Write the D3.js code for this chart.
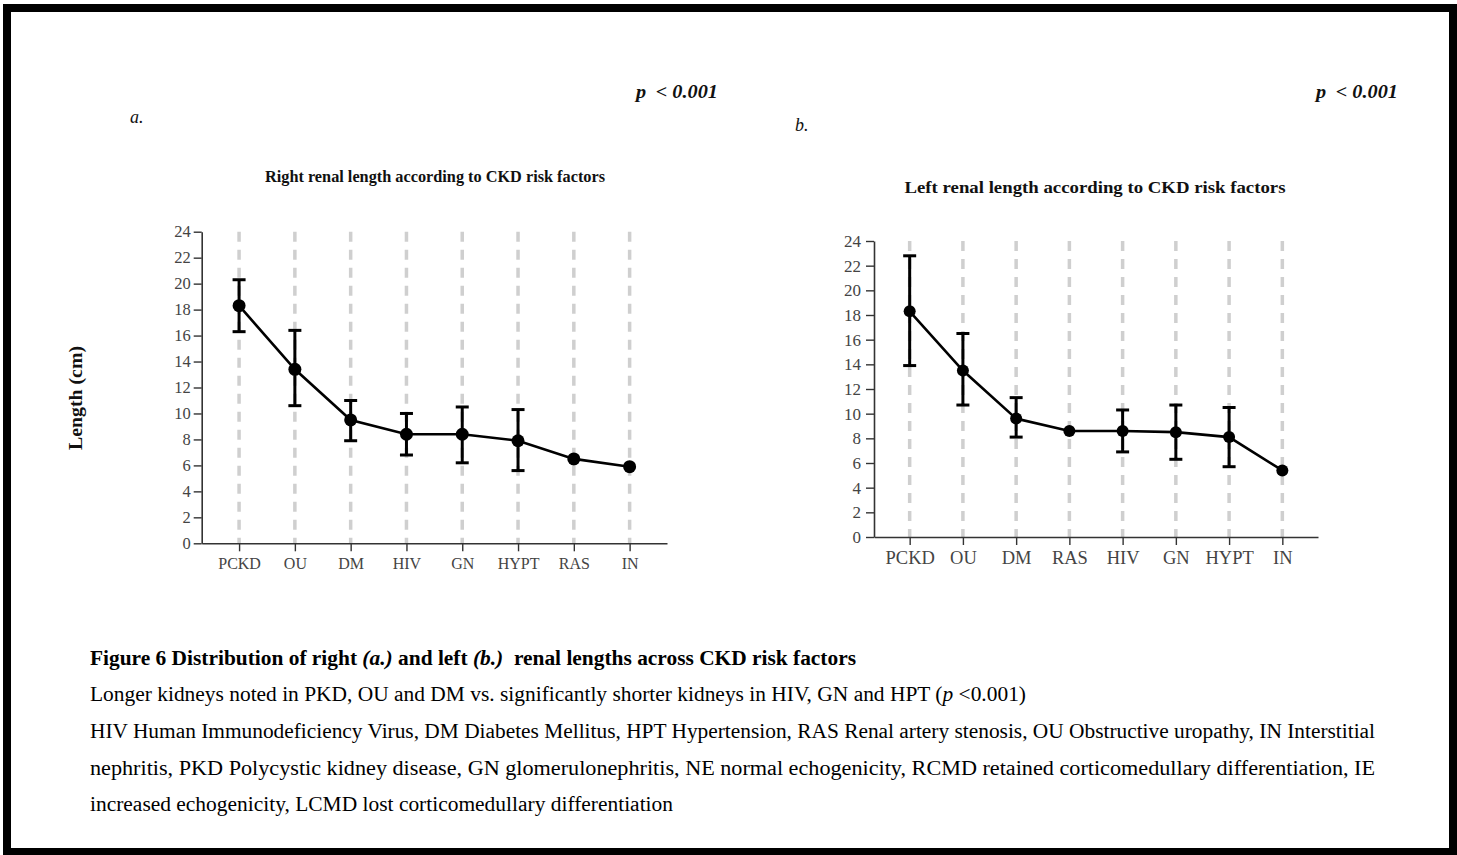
<!DOCTYPE html>
<html><head><meta charset="utf-8">
<script src="https://cdn.jsdelivr.net/npm/d3@7"></script>
<style>
html,body{margin:0;padding:0;background:#fff;}
svg{display:block;}
text{font-family:"Liberation Serif","Times New Roman",serif;}
</style></head>
<body>
<svg id="chart" width="1457" height="855"></svg>
<script>
// ---------- DATA ----------
const categoriesA = ["PCKD","OU","DM","HIV","GN","HYPT","RAS","IN"];
const meanA = [18.3, 13.4, 9.5, 8.4, 8.4, 7.9, 6.5, 5.9];
const lowA  = [16.3, 10.6, 7.9, 6.8, 6.2, 5.6, null, null];
const highA = [20.3, 16.4, 11.0, 10.0, 10.5, 10.3, null, null];

const categoriesB = ["PCKD","OU","DM","RAS","HIV","GN","HYPT","IN"];
const meanB = [18.3, 13.5, 9.6, 8.6, 8.6, 8.5, 8.1, 5.4];
const lowB  = [13.9, 10.7, 8.1, null, 6.9, 6.3, 5.7, null];
const highB = [22.8, 16.5, 11.3, null, 10.3, 10.7, 10.5, null];

const yTicks = [0,2,4,6,8,10,12,14,16,18,20,22,24];

const captionLines = [
  [{t:"Figure 6 Distribution of right ",b:1},{t:"(a.)",b:1,i:1},{t:" and left ",b:1},{t:"(b.)",b:1,i:1},{t:"  renal lengths across CKD risk factors",b:1}],
  [{t:"Longer kidneys noted in PKD, OU and DM vs. significantly shorter kidneys in HIV, GN and HPT ("},{t:"p",i:1},{t:" <0.001)"}],
  [{t:"HIV Human Immunodeficiency Virus, DM Diabetes Mellitus, HPT Hypertension, RAS Renal artery stenosis, OU Obstructive uropathy, IN Interstitial"}],
  [{t:"nephritis, PKD Polycystic kidney disease, GN glomerulonephritis, NE normal echogenicity, RCMD retained corticomedullary differentiation, IE"}],
  [{t:"increased echogenicity, LCMD lost corticomedullary differentiation"}]
];
const captionWidths = [766, 936, 1285, 1285, 583];

// ---------- DRAW ----------
const svg = d3.select("#chart");
svg.append("rect").attr("x",0).attr("y",0).attr("width",1457).attr("height",855).attr("fill","#fff");
svg.append("rect").attr("x",7).attr("y",8).attr("width",1446).attr("height",844)
  .attr("fill","none").attr("stroke","#000").attr("stroke-width",8);

function panel(cfg){
  const x = d3.scalePoint().domain(cfg.cats).range([cfg.x0, cfg.x1]).padding(0.67);
  const y = d3.scaleLinear().domain([0,24]).range([cfg.y0, cfg.y1]);
  const g = svg.append("g");
  // gridlines
  g.selectAll("line.grid").data(cfg.cats).join("line")
    .attr("x1", d=>x(d)).attr("x2", d=>x(d))
    .attr("y1", y(24)).attr("y2", y(0))
    .attr("stroke","#cfcfcf").attr("stroke-width",3.5).attr("stroke-dasharray","10,8");
  // axes
  const ya = g.append("g").attr("transform",`translate(${cfg.x0},0)`)
    .call(d3.axisLeft(y).tickValues(yTicks).tickSize(8).tickSizeOuter(0).tickPadding(cfg.ypad));
  const xa = g.append("g").attr("transform",`translate(0,${cfg.y0})`)
    .call(d3.axisBottom(x).tickSize(8).tickSizeOuter(0).tickPadding(cfg.xpad));
  [ya,xa].forEach(a=>{
    a.select(".domain").attr("stroke","#333").attr("stroke-width",1.6);
    a.selectAll(".tick line").attr("stroke","#333").attr("stroke-width",1.4);
    a.selectAll(".tick text").attr("fill","#444").style("font-family",'"Liberation Serif",serif');
  });
  ya.selectAll(".tick text").style("font-size",cfg.yfs+"px");
  xa.selectAll(".tick text").style("font-size",cfg.xfs+"px");
  // error bars
  const idx = d3.range(cfg.cats.length).filter(i=>cfg.low[i]!=null);
  const eb = g.append("g").attr("stroke","#000").attr("stroke-width",3);
  eb.selectAll("line.v").data(idx).join("line")
    .attr("x1",i=>x(cfg.cats[i])).attr("x2",i=>x(cfg.cats[i]))
    .attr("y1",i=>y(cfg.low[i])).attr("y2",i=>y(cfg.high[i]));
  eb.selectAll("line.t").data(idx).join("line")
    .attr("x1",i=>x(cfg.cats[i])-6.5).attr("x2",i=>x(cfg.cats[i])+6.5)
    .attr("y1",i=>y(cfg.high[i])).attr("y2",i=>y(cfg.high[i]));
  eb.selectAll("line.b").data(idx).join("line")
    .attr("x1",i=>x(cfg.cats[i])-6.5).attr("x2",i=>x(cfg.cats[i])+6.5)
    .attr("y1",i=>y(cfg.low[i])).attr("y2",i=>y(cfg.low[i]));
  // line
  const line = d3.line().x((d,i)=>x(cfg.cats[i])).y(d=>y(d));
  g.append("path").datum(cfg.mean).attr("d",line).attr("fill","none")
    .attr("stroke","#000").attr("stroke-width",2.6);
  g.selectAll("circle").data(cfg.mean).join("circle")
    .attr("cx",(d,i)=>x(cfg.cats[i])).attr("cy",d=>y(d)).attr("r",cfg.r).attr("fill","#000");
  // titles
  svg.append("text").attr("x",cfg.tx).attr("y",cfg.ty).attr("text-anchor","middle")
    .attr("font-weight","bold").attr("font-size",cfg.tfs).attr("fill","#111")
    .attr("textLength",cfg.tw).attr("lengthAdjust","spacingAndGlyphs").text(cfg.title);
  svg.append("text").attr("x",cfg.lx).attr("y",cfg.ly).attr("font-style","italic")
    .attr("font-size",18).attr("fill","#111").text(cfg.letter);
  const p = svg.append("text").attr("x",cfg.px).attr("y",cfg.py).attr("font-weight","bold")
    .attr("font-style","italic").attr("font-size",19).attr("fill","#111").style("white-space","pre")
    .attr("textLength",82).attr("lengthAdjust","spacingAndGlyphs");
  p.append("tspan").text("p");
  p.append("tspan").attr("dx",9).text("< 0.001");
}

panel({cats:categoriesA, mean:meanA, low:lowA, high:highA,
  x0:201.7, x1:667, y0:543.3, y1:231.7, yfs:16.5, xfs:16, r:6.5, ypad:3, xpad:6,
  title:"Right renal length according to CKD risk factors", tx:435, ty:182, tfs:16, tw:340,
  letter:"a.", lx:130, ly:123, px:636, py:98});
panel({cats:categoriesB, mean:meanB, low:lowB, high:highB,
  x0:874, x1:1318, y0:537, y1:241, yfs:17, xfs:18.5, r:6, ypad:5, xpad:6,
  title:"Left renal length according to CKD risk factors", tx:1095, ty:193, tfs:17.5, tw:381,
  letter:"b.", lx:795, ly:131, px:1316, py:98});

// y axis label
svg.append("text").attr("transform","translate(82,398) rotate(-90)").attr("text-anchor","middle")
  .attr("font-weight","bold").attr("font-size",19).attr("fill","#111")
  .attr("textLength",104).attr("lengthAdjust","spacingAndGlyphs").text("Length (cm)");

// caption
const baselines = [665, 701, 738, 775, 811];
captionLines.forEach((parts,li)=>{
  const t = svg.append("text").attr("x",90).attr("y",baselines[li]).attr("font-size",20)
    .attr("fill","#000").style("white-space","pre")
    .attr("textLength",captionWidths[li]).attr("lengthAdjust","spacingAndGlyphs");
  parts.forEach(p=>{
    t.append("tspan").attr("font-weight",p.b?"bold":"normal")
      .attr("font-style",p.i?"italic":"normal").text(p.t);
  });
});
</script>
</body></html>
